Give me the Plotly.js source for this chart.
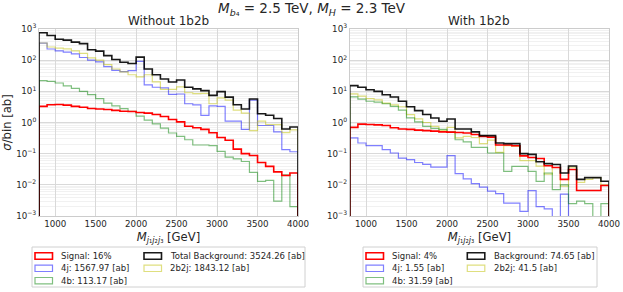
<!DOCTYPE html>
<html><head><meta charset="utf-8">
<script src="https://cdn.plot.ly/plotly-3.0.1.min.js"></script>
<style>html,body{margin:0;padding:0;background:#fff}#chart{width:623px;height:292px}</style>
</head><body><div id="chart"></div>
<script>
// ---------- data ----------
const binEdges = [800,900,1000,1100,1200,1300,1400,1500,1600,1700,1800,1900,2000,2100,2200,2300,2400,2500,2600,2700,2800,2900,3000,3100,3200,3300,3400,3500,3600,3700,3800,3900,4000];
const xTickVals = [1000,1500,2000,2500,3000,3500,4000];
const yTickVals = [1e-3,1e-2,1e-1,1,10,100,1000];
const yTickText = ['10<sup>−3</sup>','10<sup>−2</sup>','10<sup>−1</sup>','10<sup>0</sup>','10<sup>1</sup>','10<sup>2</sup>','10<sup>3</sup>'];

// Without 1b2b (left)
const signalWithout = [3.3,3.7,3.8,3.6,3.3,3.1,2.8,2.7,2.6,2.45,2.3,2.25,2.1,2.0,1.8,1.55,1.25,1.05,0.76,0.68,0.6,0.47,0.33,0.27,0.14,0.1,0.087,0.052,0.039,0.026,0.02,0.024];
const bkgWithout = [760,620,470,440,380,340,215,195,140,105,86,78,125,52,34,25,20,23,13.5,12,10.5,7.4,9.8,6.5,3.7,2.7,5.7,1.9,1.7,1.35,0.62,0.72];
const j4Without = [350,228,200,180,160,122,100,88,62,47,43,46,92,16,13.5,13,8,8.2,4.0,3.7,1.7,3.4,3.3,1.1,1.1,0.6,5.2,0.8,0.8,0.5,0.135,0.115];
const b2j2Without = [355,265,245,230,200,165,118,100,72,52,42,34,29,34,20,11.5,11.5,14,9.0,8.4,8.6,4.0,6.2,5.2,2.5,2.0,0.55,1.1,0.85,0.85,0.47,0.58];
const b4Without = [22,21,18.5,15,12.5,10,7.8,5.8,4.2,3.4,2.8,2.3,1.6,1.2,0.9,0.66,0.46,0.36,0.28,0.19,0.19,0.18,0.118,0.078,0.068,0.056,0.025,0.013,0.014,0.003,0.021,0.002];

// With 1b2b (right)
const signalWith = [0.7,0.89,0.86,0.84,0.8,0.68,0.62,0.6,0.57,0.55,0.53,0.5,0.49,0.48,0.46,0.41,0.36,0.34,0.19,0.19,0.18,0.085,0.075,0.07,0.041,0.036,0.015,0.031,0.0066,0.0066,0.0066,0.0095];
const bkgWith = [15.2,13.5,11.3,10,7.8,6.6,4.8,3.2,2.4,1.8,1.4,1.1,1.3,0.62,0.62,0.5,0.38,0.38,0.22,0.21,0.21,0.1,0.095,0.055,0.048,0.045,0.024,0.04,0.015,0.017,0.017,0.013];
const j4With = [0.32,0.22,0.18,0.18,0.135,0.105,0.072,0.064,0.052,0.045,0.037,0.037,0.086,0.023,0.0156,0.011,0.0085,0.0063,0.0052,0.0026,0.0026,0.0014,0.0065,0.002,0.0017,0,0.005,0,0,0,0,0];
const b2j2With = [8.3,7.0,5.8,5.3,4.2,3.7,3.2,1.8,1.3,1.0,0.75,0.55,0.7,0.32,0.36,0.33,0.21,0.27,0.11,0.18,0.17,0.06,0.06,0.04,0.022,0.036,0.009,0.037,0.012,0.015,0.017,0.01];
const b4With = [6.6,5.6,4.8,4.5,4.0,3.3,2.5,1.4,1.05,0.75,0.65,0.6,0.5,0.28,0.24,0.16,0.16,0.105,0.105,0.027,0.039,0.039,0.027,0.013,0.024,0.007,0.01,0.0025,0.003,0.0025,0,0.0025];

const legendWithout = ['Signal: 16%','Total Background: 3524.26 [ab]','4j: 1567.97 [ab]','2b2j: 1843.12 [ab]','4b: 113.17 [ab]'];
const legendWith = ['Signal: 4%','Background: 74.65 [ab]','4j: 1.55 [ab]','2b2j: 41.5 [ab]','4b: 31.59 [ab]'];
const panelTitles = ['Without 1b2b','With 1b2b'];
const mainTitle = '<i>M</i><sub><i>b</i>₄</sub> = 2.5 TeV, <i>M</i><sub><i>H</i></sub> = 2.3 TeV';

// ---------- styles ----------
const FONT = 'DejaVu Sans, sans-serif';
const TXT = '#262626';
const sty = {
  signal: {color:'#ff0000', width:1.6},
  bkg: {color:'rgba(0,0,0,0.9)', width:1.6},
  j4: {color:'rgba(0,0,255,0.5)', width:1.2},
  b2j2: {color:'rgba(191,191,0,0.5)', width:1.2},
  b4: {color:'rgba(0,128,0,0.5)', width:1.2}
};

const W = 623, H = 292, L = 39, R = 14, T = 29, B = 76;
const PW = W - L - R, PH = H - T - B;
const fx = px => (px - L) / PW;
const fy = py => (H - B - py) / PH;

function step(vals){
  const FLOOR = 1e-9;
  const xs = [binEdges[0]], ys = [FLOOR];
  vals.forEach((v,i) => { xs.push(binEdges[i]); ys.push(v > 0 ? v : FLOOR); });
  const n = vals.length;
  xs.push(binEdges[n]); ys.push(vals[n-1] > 0 ? vals[n-1] : FLOOR);
  xs.push(binEdges[n]); ys.push(FLOOR);
  return {x: xs, y: ys};
}
function tr(vals, s, xa, ya){
  const d = step(vals);
  return {type:'scatter', mode:'lines', x:d.x, y:d.y, xaxis:xa, yaxis:ya,
    line:{shape:'hv', color:s.color, width:s.width}, showlegend:false, hoverinfo:'skip'};
}
const traces = [
  tr(j4Without, sty.j4, 'x', 'y'), tr(b2j2Without, sty.b2j2, 'x', 'y'), tr(b4Without, sty.b4, 'x', 'y'),
  tr(signalWithout, sty.signal, 'x', 'y'), tr(bkgWithout, sty.bkg, 'x', 'y'),
  tr(j4With, sty.j4, 'x2', 'y2'), tr(b2j2With, sty.b2j2, 'x2', 'y2'), tr(b4With, sty.b4, 'x2', 'y2'),
  tr(signalWith, sty.signal, 'x2', 'y2'), tr(bkgWith, sty.bkg, 'x2', 'y2')
];

const minorVals = [];
for (let d = -3; d < 3; d++) for (let k = 2; k <= 9; k++) minorVals.push(k * Math.pow(10, d));

function xax(domain){
  return {domain, range:[800,4000], tickvals:xTickVals, ticks:'', showgrid:true, gridcolor:'#d9d9d9', gridwidth:1,
    showline:true, linecolor:'#cccccc', linewidth:1, mirror:true, zeroline:false,
    tickfont:{family:FONT, size:8.7, color:TXT},
    title:{text:'<i>M</i><sub><i>j</i>₁<i>j</i>₂<i>j</i>₃</sub> [GeV]', font:{family:FONT, size:11.6, color:TXT}, standoff:4}};
}
function yax(anchor, withTitle){
  const a = {type:'log', range:[-3,3], anchor, tickvals:yTickVals, ticktext:yTickText, ticks:'',
    showgrid:true, gridcolor:'#d9d9d9', gridwidth:1, showline:true, linecolor:'#cccccc', linewidth:1, mirror:true,
    zeroline:false, tickfont:{family:FONT, size:8.7, color:TXT},
    minor:{tickmode:'array', tickvals:minorVals, showgrid:true, gridcolor:'#eeeeee', gridwidth:0.8, ticks:''}};
  if (withTitle) a.title = {text:'<i>σ</i>/bin [ab]', font:{family:FONT, size:11.6, color:TXT}, standoff:4};
  return a;
}

const shapes = [], annotations = [];
annotations.push({xref:'paper', yref:'paper', x:fx(311.5), y:fy(9), text:mainTitle, showarrow:false,
  xanchor:'center', yanchor:'middle', font:{family:FONT, size:13.5, color:TXT}});
[[168.5, panelTitles[0]], [479.4, panelTitles[1]]].forEach(([cx, t]) => {
  annotations.push({xref:'paper', yref:'paper', x:fx(cx), y:fy(20.5), text:t, showarrow:false,
    xanchor:'center', yanchor:'middle', font:{family:FONT, size:12, color:TXT}});
});

function legendBox(x0, x1, cols, labels){
  shapes.push({type:'rect', xref:'paper', yref:'paper', x0:fx(x0), x1:fx(x1), y0:fy(287), y1:fy(247),
    line:{color:'#d0d0d0', width:1}, fillcolor:'rgba(255,255,255,0.8)', layer:'above'});
  const order = [[sty.signal,0,0],[sty.bkg,1,0],[sty.j4,0,1],[sty.b2j2,1,1],[sty.b4,0,2]];
  const rowsY = [256, 268.3, 280.7];
  order.forEach(([s, c, r], i) => {
    const sx = cols[c], yy = rowsY[r];
    shapes.push({type:'rect', xref:'paper', yref:'paper', x0:fx(sx), x1:fx(sx+17.5), y0:fy(yy+3.2), y1:fy(yy-3.2),
      line:{color:s.color, width:s.width}, fillcolor:'rgba(0,0,0,0)', layer:'above'});
    annotations.push({xref:'paper', yref:'paper', x:fx(sx+24.3), y:fy(yy), text:labels[i], showarrow:false,
      xanchor:'left', yanchor:'middle', font:{family:FONT, size:8.5, color:TXT}});
  });
}
legendBox(32, 305, [35, 144], legendWithout);
legendBox(363, 597, [366, 467.3], legendWith);

const layout = {
  width:W, height:H, margin:{l:L, r:R, t:T, b:B, pad:0}, paper_bgcolor:'#fff', plot_bgcolor:'#fff',
  showlegend:false, font:{family:FONT, color:TXT},
  xaxis: xax([0, fx(298)]), yaxis: yax('x', true),
  xaxis2: xax([fx(349.8), 1]), yaxis2: yax('x2', false),
  shapes, annotations
};
layout.xaxis2.anchor = 'y2'; layout.xaxis.anchor = 'y';
Plotly.newPlot('chart', traces, layout, {staticPlot:true, displayModeBar:false});
</script></body></html>
